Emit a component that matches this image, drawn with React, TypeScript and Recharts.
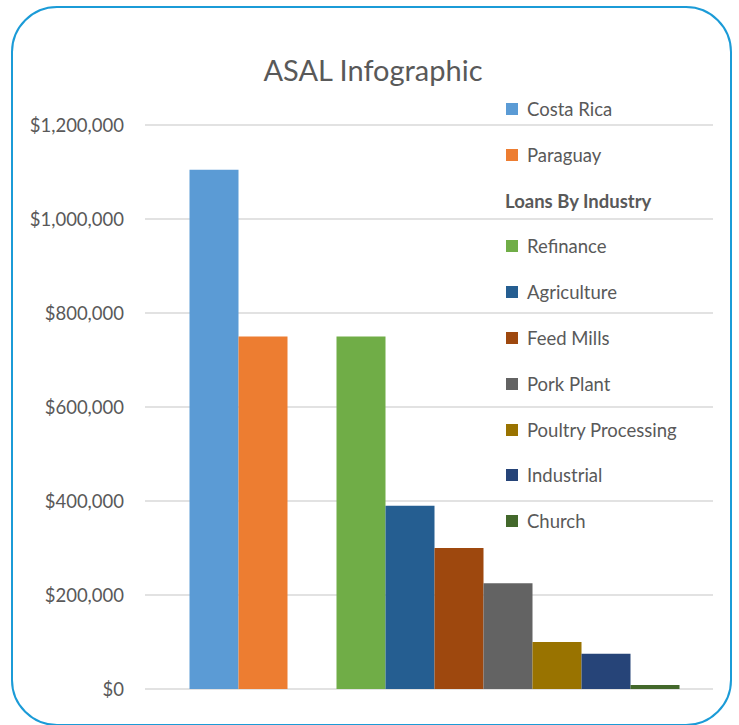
import { BarChart, Bar, XAxis, YAxis, CartesianGrid } from "recharts"

const seriesNames = [
  "Costa Rica",
  "Paraguay",
  "Loans By Industry",
  "Refinance",
  "Agriculture",
  "Feed Mills",
  "Pork Plant",
  "Poultry Processing",
  "Industrial",
  "Church",
]
const seriesValues = [1105000, 750000, 0, 750000, 390000, 300000, 225000, 100000, 75000, 8500]
const seriesColors = [
  "#5B9BD5",
  "#ED7D31",
  "none",
  "#70AD47",
  "#255E91",
  "#9E480E",
  "#636363",
  "#997300",
  "#264478",
  "#43682B",
]
const yTicks = [0, 200000, 400000, 600000, 800000, 1000000, 1200000]

const FONT = "Lato, 'Open Sans', sans-serif"
const TEXT = "#595959"

const row: Record<string, number | string> = { name: "ASAL" }
seriesNames.forEach((n, i) => {
  row[n] = seriesValues[i]
})
const data = [row]

const fmt = (v: number) => "$" + v.toLocaleString("en-US")

export default function App() {
  return (
    <div style={{ position: "absolute", left: 0, top: 0, width: 739, height: 725, overflow: "hidden", fontFamily: FONT, background: "#fff" }}>
      <div
        style={{
          position: "absolute",
          left: 11,
          top: 6,
          width: 721,
          height: 720,
          border: "2.5px solid #1B9BD7",
          borderRadius: 46,
          boxSizing: "border-box",
        }}
      />
      <div style={{ position: "absolute", left: 0, top: 52, width: 746, textAlign: "center", fontSize: 29, color: TEXT }}>
        ASAL Infographic
      </div>
      <div style={{ position: "absolute", left: 0, top: 0 }}>
        <BarChart width={739} height={725} data={data} margin={{ top: 125, right: 26, bottom: 36, left: 0 }} barGap={0} barCategoryGap={38.5}>
          <CartesianGrid vertical={false} stroke="#D9D9D9" strokeWidth={1.5} />
          <XAxis dataKey="name" hide padding={{ left: 6, right: 0 }} />
          <YAxis
            width={145}
            domain={[0, 1200000]}
            ticks={yTicks}
            tickFormatter={fmt}
            axisLine={false}
            tickLine={false}
            tickSize={0}
            tickMargin={21}
            tick={{ fontSize: 18.5, fill: TEXT, fontFamily: FONT }}
          />
          {seriesNames.map((n, i) => (
            <Bar key={n} dataKey={n} fill={seriesColors[i]} isAnimationActive={false} />
          ))}
        </BarChart>
      </div>
      <div style={{ position: "absolute", left: 505, top: 97 }}>
        {seriesNames.map((n, i) => (
          <div key={n} style={{ height: 45.8, display: "flex", alignItems: "flex-start", fontSize: 18.5, color: TEXT, lineHeight: "24px" }}>
            {seriesColors[i] === "none" ? (
              <span style={{ fontWeight: 700 }}>{n}</span>
            ) : (
              <>
                <span style={{ width: 12, height: 12, background: seriesColors[i], marginTop: 6, marginLeft: 1, marginRight: 9, display: "inline-block" }} />
                <span>{n}</span>
              </>
            )}
          </div>
        ))}
      </div>
    </div>
  )
}
